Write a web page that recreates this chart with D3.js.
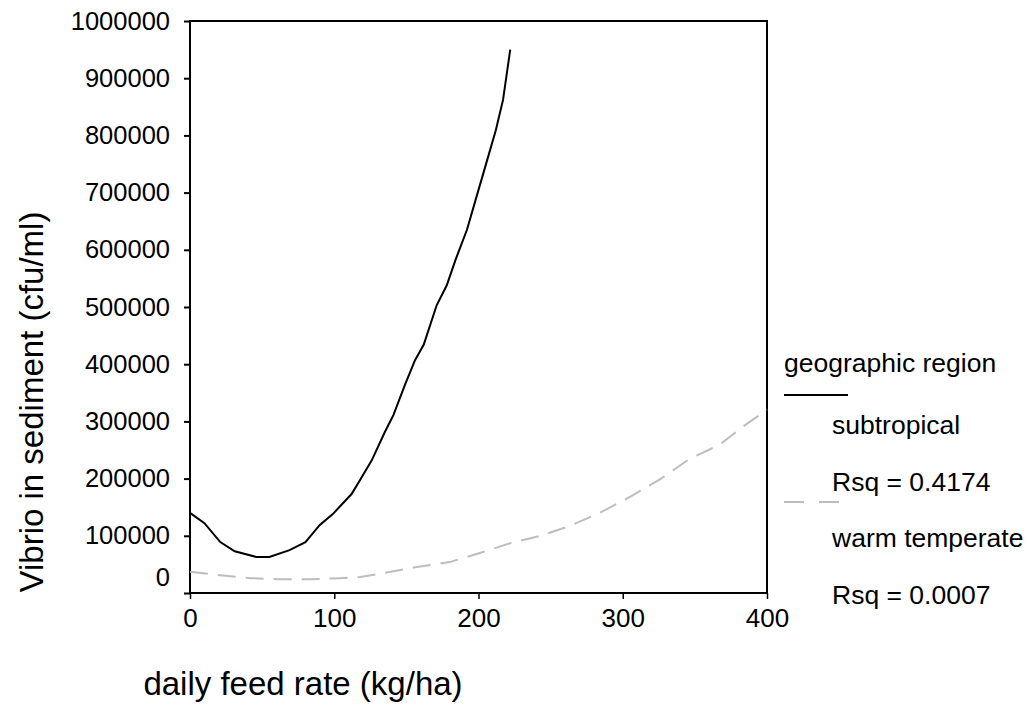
<!DOCTYPE html>
<html>
<head>
<meta charset="utf-8">
<script src="https://d3js.org/d3.v7.min.js"></script>
<style>
  body { margin: 0; background: #fff; }
  text { font-family: "Liberation Sans", Arial, sans-serif; fill: #000; }
</style>
</head>
<body>
<script>
// fitted curves (feed rate kg/ha, vibrio cfu/ml)
var subX = [0, 10, 21, 31, 46, 55, 69, 80, 90, 99, 112, 118, 126, 135, 141, 149, 156, 162, 171, 178, 184, 192, 199, 205, 212, 217, 222];
var subY = [140000, 122000, 89000, 73000, 63000, 63000, 75000, 89000, 119000, 138000, 173000, 198000, 232000, 281000, 311000, 364000, 407000, 434000, 503000, 538000, 582000, 635000, 696000, 748000, 809000, 862000, 950000];
var warmX = [0, 21, 42, 62, 83, 104, 118, 132, 156, 180, 201, 222, 243, 263, 284, 305, 326, 346, 367, 385, 400];
var warmY = [37000, 31000, 26000, 24000, 24000, 26000, 28000, 34000, 45000, 54000, 70000, 87000, 100000, 117000, 140000, 168000, 199000, 234000, 259000, 294000, 320000];
var xTicks = [0, 100, 200, 300, 400];
var yTicks = [0, 100000, 200000, 300000, 400000, 500000, 600000, 700000, 800000, 900000, 1000000];
var legendTitle = "geographic region";
var seriesNames = ["subtropical", "warm temperate"];
var rsq = ["Rsq = 0.4174", "Rsq = 0.0007"];

var W = 1029, H = 720;
var plot = {left: 190, right: 767, top: 21, bottom: 593};

var svg = d3.select("body").append("svg")
  .attr("width", W)
  .attr("height", H);

var x = d3.scaleLinear().domain([0, 400]).range([plot.left, plot.right]);
var y = d3.scaleLinear().domain([0, 1000000]).range([plot.bottom, plot.top]);

// frame
svg.append("rect")
  .attr("x", plot.left).attr("y", plot.top)
  .attr("width", plot.right - plot.left).attr("height", plot.bottom - plot.top)
  .attr("fill", "none").attr("stroke", "#000").attr("stroke-width", 2);

var yAxis = d3.axisLeft(y).tickValues(yTicks).tickSize(6).tickPadding(14).tickFormat(d3.format("d"));
var yG = svg.append("g").attr("transform", `translate(${plot.left},0)`).call(yAxis);
yG.select(".domain").remove();
yG.selectAll("line").attr("stroke-width", 2);
yG.selectAll("text").style("font-size", "25.5px").attr("font-family", null);
// the 0 label sits higher than its tick in the original
yG.selectAll(".tick").filter(function(d){ return d === 0; }).select("text").attr("dy", "-0.28em");

var xAxis = d3.axisBottom(x).tickValues(xTicks).tickSize(6).tickPadding(10);
var xG = svg.append("g").attr("transform", `translate(0,${plot.bottom})`).call(xAxis);
xG.select(".domain").remove();
xG.selectAll("line").attr("stroke-width", 1.5);
xG.selectAll("text").style("font-size", "26px").attr("font-family", null);

var line = d3.line().x(function(d){ return x(d[0]); }).y(function(d){ return y(d[1]); });

svg.append("path")
  .datum(d3.zip(warmX, warmY))
  .attr("d", line)
  .attr("fill", "none").attr("stroke", "#bdbdbd").attr("stroke-width", 2)
  .attr("stroke-dasharray", "18,10");

svg.append("path")
  .datum(d3.zip(subX, subY))
  .attr("d", line)
  .attr("fill", "none").attr("stroke", "#000").attr("stroke-width", 2);

// axis titles
svg.append("text")
  .attr("transform", "translate(43,402) rotate(-90)")
  .attr("text-anchor", "middle")
  .style("font-size", "33px")
  .text("Vibrio in sediment (cfu/ml)");

svg.append("text")
  .attr("x", 303).attr("y", 695)
  .attr("text-anchor", "middle")
  .style("font-size", "33px")
  .text("daily feed rate (kg/ha)");

// legend
var lg = svg.append("g").style("font-size", "26.5px");
lg.append("text").attr("x", 784).attr("y", 372).text(legendTitle);
lg.append("line").attr("x1", 784).attr("x2", 848).attr("y1", 395).attr("y2", 395)
  .attr("stroke", "#000").attr("stroke-width", 2);
lg.append("text").attr("x", 832).attr("y", 434).text(seriesNames[0]);
lg.append("text").attr("x", 832).attr("y", 491).text(rsq[0]);
lg.append("line").attr("x1", 784).attr("x2", 845).attr("y1", 502).attr("y2", 502)
  .attr("stroke", "#bdbdbd").attr("stroke-width", 2).attr("stroke-dasharray", "20,15");
lg.append("text").attr("x", 832).attr("y", 547).text(seriesNames[1]);
lg.append("text").attr("x", 832).attr("y", 604).text(rsq[1]);
</script>
</body>
</html>
